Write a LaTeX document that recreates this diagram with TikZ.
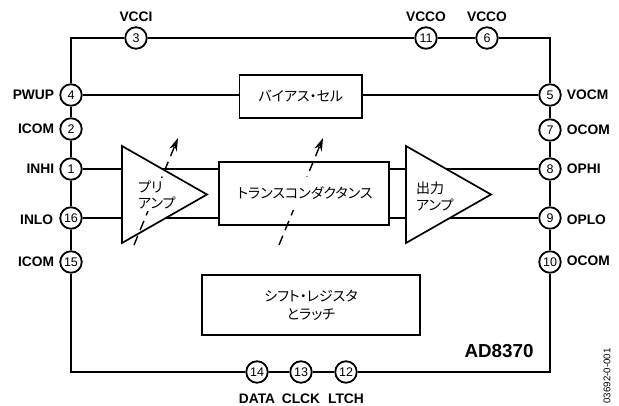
\documentclass[tikz,border=0pt]{standalone}
\usepackage{fontspec}
\setmainfont{Liberation Sans}
\newfontfamily\cjk[RawFeature=+palt]{Noto Sans CJK JP}
\usetikzlibrary{arrows.meta, positioning, calc, shapes.geometric}

\begin{document}
\begin{tikzpicture}[x=1pt, y=-1pt, >={Stealth[length=13pt, width=8pt]},
    pin/.style={circle, draw, fill=white, line width=1.8pt, minimum size=21.5pt, inner sep=0pt, on grid, font=\fontsize{12.5}{12.5}\selectfont},
    pinlabel/.style={inner sep=0pt, font=\fontsize{13.8}{14}\selectfont\bfseries},
    block/.style={draw, line width=1.7pt, inner sep=0pt, align=center, font=\fontsize{14}{18}\selectfont\cjk},
    amp/.style={isosceles triangle, isosceles triangle stretches, draw, fill=white, line width=1.7pt, inner sep=0pt, outer sep=0pt, minimum width=97pt, minimum height=85pt, anchor=apex},
    blocktext/.style={fill=white, inner sep=0pt, minimum height=33pt, font=\fontsize{14}{18}\selectfont\cjk},
    amptext/.style={fill=white, inner sep=0pt, minimum height=33pt, align=left, anchor=west, font=\fontsize{14}{16.5}\selectfont\cjk},
    outline/.style={line width=2.2pt},
    wire/.style={line width=1.3pt},
    tune/.style={->, line width=1.4pt, dash pattern=on 10pt off 6pt}]
  \useasboundingbox (0,0) rectangle (619,406);

  % Top pins
  \node[pin] (p3) at (136,38) {3};
  \node[pin, right=290pt of p3] (p11) {11};
  \node[pin, right=61pt of p11] (p6) {6};
  \node[pinlabel, above=5pt of p3] (vcci) {VCCI};
  \node[pinlabel, above=5pt of p11] (vcco1) {VCCO};
  \node[pinlabel, above=5pt of p6] (vcco2) {VCCO};

  % Left pins
  \node[pin] (p4) at (71,95) {4};
  \node[pin, below=34pt of p4] (p2) {2};
  \node[pin, below=40pt of p2] (p1) {1};
  \node[pin, below=49pt of p1] (p16) {16};
  \node[pin, below=44pt of p16] (p15) {15};
  \node[pinlabel, left=5pt of p4] (pwup) {PWUP};
  \node[pinlabel, left=5pt of p2] (icom1) {ICOM};
  \node[pinlabel, left=5pt of p1] (inhi) {INHI};
  \node[pinlabel, left=6pt of p16, yshift=-2pt] (inlo) {INLO};
  \node[pinlabel, left=5pt of p15] (icom2) {ICOM};

  % Right pins
  \node[pin, right=479pt of p4] (p5) {5};
  \node[pin, below=35pt of p5] (p7) {7};
  \node[pin, below=39pt of p7] (p8) {8};
  \node[pin, below=49pt of p8] (p9) {9};
  \node[pin, below=44pt of p9] (p10) {10};
  \node[pinlabel, right=5pt of p5] (vocm) {VOCM};
  \node[pinlabel, right=5pt of p7] (ocom1) {OCOM};
  \node[pinlabel, right=5pt of p8] (ophi) {OPHI};
  \node[pinlabel, right=5pt of p9, yshift=-2pt] (oplo) {OPLO};
  \node[pinlabel, right=5pt of p10, yshift=1pt] (ocom2) {OCOM};

  % Bottom pins
  \node[pin] (p14) at (257,372) {14};
  \node[pin, right=44pt of p14] (p13) {13};
  \node[pin, right=45pt of p13] (p12) {12};
  \node[pinlabel, below=10pt of p14] (data) {DATA};
  \node[pinlabel, below=10pt of p13] (clck) {CLCK};
  \node[pinlabel, below=10pt of p12] (ltch) {LTCH};

  % Outline
  \draw[outline] (p4) |- (p3);
  \draw[outline] (p3) -- (p11);
  \draw[outline] (p11) -- (p6);
  \draw[outline] (p6) -| (p5);
  \draw[outline] (p4) -- (p2);
  \draw[outline] (p2) -- (p1);
  \draw[outline] (p1) -- (p16);
  \draw[outline] (p16) -- (p15);
  \draw[outline] (p5) -- (p7);
  \draw[outline] (p7) -- (p8);
  \draw[outline] (p8) -- (p9);
  \draw[outline] (p9) -- (p10);
  \draw[outline] (p15) |- (p14);
  \draw[outline] (p14) -- (p13);
  \draw[outline] (p13) -- (p12);
  \draw[outline] (p12) -| (p10);

  % Blocks
  \node[block, minimum width=122.5pt, minimum height=43pt] (bias) at (300.75,96.5) {バイアス・セル};
  \node[block, minimum width=170.5pt, minimum height=63pt] (trans) at (304,193.5) {};
  \node[block, minimum width=218pt, minimum height=60pt] (shift) at (311,305) {シフト・レジスタ\\とラッチ};
  \draw[wire] (p4) -- (p4 -| bias.west);
  \draw[wire] (p5 -| bias.east) -- (p5);

  % Amplifiers
  \draw[wire] (p1) -- (p1 -| trans.west);
  \draw[wire] (p16) -- (p16 -| trans.west);
  \draw[wire] (p8 -| trans.east) -- (p8);
  \draw[wire] (p9 -| trans.east) -- (p9);
  \node[amp] (preamp) at (207,194.5) {};
  \node[amp] (outamp) at (491,194.5) {};
  \node[amptext] (outtext) at (416,196.5) {出力\\アンプ};

  % Gain control
  \coordinate (pretail) at (134,245);
  \coordinate (pretip) at (178,138);
  \coordinate (transtail) at (279,245);
  \coordinate (transtip) at (323,138);
  \draw[tune] (pretail) -- (pretip);
  \draw[tune] (transtail) -- (transtip);
  \node[amptext, text width=39pt] (pretext) at (138,195) {プリ\\アンプ};
  \node[blocktext] (transtext) at (305,193.5) {トランスコンダクタンス};

  \node[inner sep=0pt, font=\fontsize{18.8}{19}\selectfont\bfseries] (part) at (499,351) {AD8370};
  \node[inner sep=0pt, rotate=90, font=\fontsize{9.7}{10}\selectfont] (code) at (607,376) {03692-0-001};
\end{tikzpicture}
\end{document}
